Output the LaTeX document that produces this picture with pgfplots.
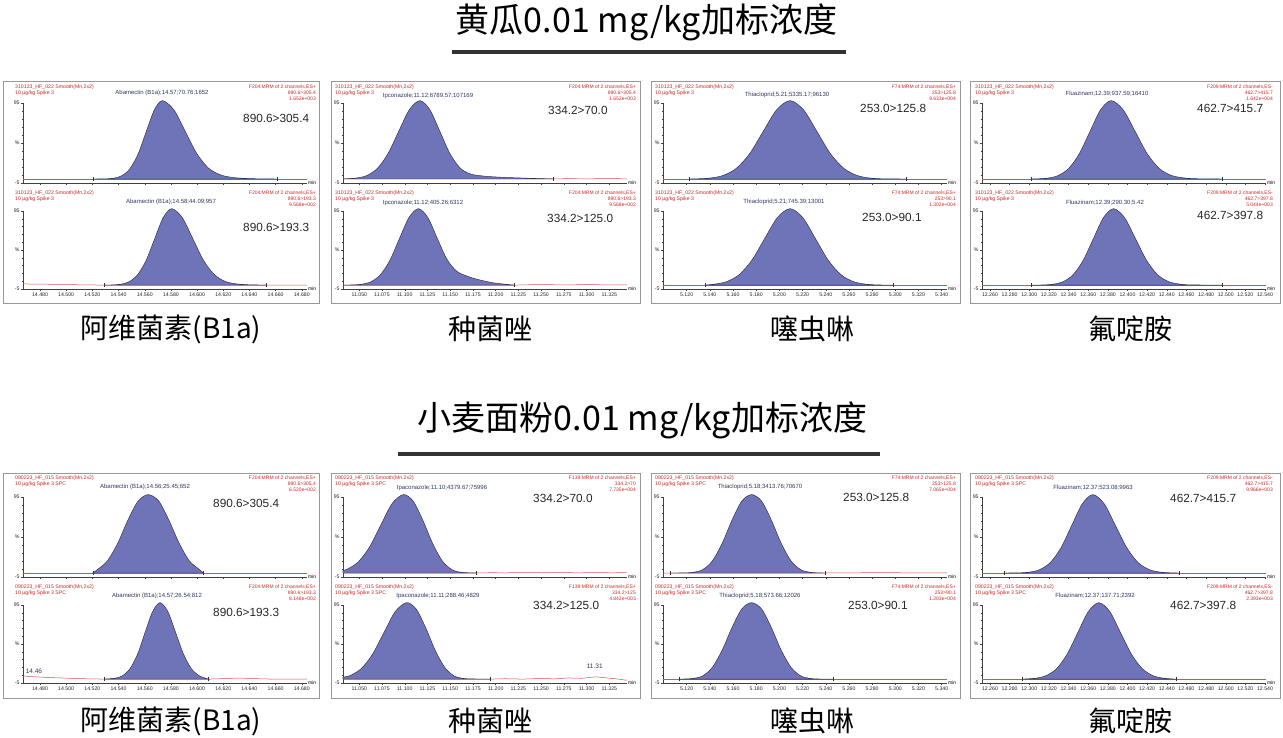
\documentclass[border=0pt]{standalone}
\usepackage{pgfplots}
\pgfplotsset{compat=1.18}
\usepackage{fontspec}
\setmainfont{Liberation Sans}
\newfontfamily\cjk{Noto Sans CJK SC}
\definecolor{pk}{RGB}{111,115,184}
\definecolor{pkline}{RGB}{45,45,70}
\definecolor{trc}{RGB}{214,80,80}
\definecolor{hred}{RGB}{205,40,40}
\definecolor{cmp}{RGB}{45,55,95}
\newcommand\fs[1]{\fontsize{#1}{#1}\selectfont}
\pgfplotsset{
 chrom/.style={scale only axis, width=284pt, axis lines*=left,
   axis line style={-, black!75, line width=0.5pt},
   ymin=-5, ymax=95, ytick={-5,45,95}, yticklabels={-5,\%,95},
   minor ytick={5,15,25,35,55,65,75,85},
   clip=false, tick align=outside,
   major tick length=2.2pt, minor tick length=1.4pt,
   tick style={black!75, line width=0.4pt},
   tick label style={font=\fs{5.2}, text=black!85, inner sep=1pt},
   typeset ticklabels with strut,
   /pgf/number format/assume math mode=true,
   xticklabel style={/pgf/number format/.cd, fixed, fixed zerofill, precision=3},
   unbounded coords=jump,
 },
 up/.style={chrom, height=80pt, anchor=south west, xticklabels={}},
 lo/.style={chrom, height=78pt, anchor=south west},
 abam/.style={xmin=14.467, xmax=14.684, xtick={14.48,14.5,14.52,14.54,14.56,14.58,14.6,14.62,14.64,14.66,14.68}, minor x tick num=4},
 ipco/.style={xmin=11.0321, xmax=11.3445, xtick={11.05,11.075,11.1,11.125,11.15,11.175,11.2,11.225,11.25,11.275,11.3,11.325}, minor x tick num=4},
 ipcolbl/.style={xticklabels={11.050,11.075,11.100,11.125,11.150,11.175,11.200,11.225,11.250,11.275,11.300,11.325}},
 thia/.style={xmin=5.0996, xmax=5.3446, xtick={5.12,5.14,5.16,5.18,5.2,5.22,5.24,5.26,5.28,5.3,5.32,5.34}, minor x tick num=4},
 fluz/.style={xmin=12.2519, xmax=12.541, xtick={12.26,12.28,12.3,12.32,12.34,12.36,12.38,12.4,12.42,12.44,12.46,12.48,12.5,12.52,12.54}, minor x tick num=4},
 tr/.style={trc, line width=0.5pt},
 pkst/.style={fill=pk, draw=pkline, line width=0.45pt, smooth, tension=0.5},
 mk/.style={black!80, line width=0.4pt},
}
\newcommand\minlbl{\node[anchor=west, font=\fs{5}, inner sep=1pt] at (rel axis cs:1,0) {min};}
\newcommand\hd[8]{%
 \node[anchor=west,text=hred,font=\fs{5.2},inner sep=0pt] at (#1,-#3) {#4};
 \node[anchor=west,text=hred,font=\fs{5.2},inner sep=0pt] at (#1,-#3-6) {#5};
 \node[anchor=east,text=hred,font=\fs{5},inner sep=0pt] at (#2,-#3) {#6};
 \node[anchor=east,text=hred,font=\fs{5},inner sep=0pt] at (#2,-#3-6) {#7};
 \node[anchor=east,text=hred,font=\fs{5},inner sep=0pt] at (#2,-#3-12) {#8};}
\newcommand\cm[3]{\node[text=cmp,font=\fs{6},inner sep=0pt] at (#1,-#2) {#3};}
\newcommand\trn[3]{\node[anchor=west,font=\fs{11.8},text=black!85,inner sep=0pt] at (#1,-#2) {#3};}
\begin{document}
\begin{tikzpicture}[x=1pt,y=1pt]
\useasboundingbox (0,0) rectangle (1283,-738);
% titles
\node[font=\cjk\fs{34}] at (646.5,-22) {黄瓜0.01 mg/kg加标浓度};
\draw[line width=4.5pt, black!80] (452,-52) -- (846,-52);
\node[font=\cjk\fs{34}] at (642.5,-420) {小麦面粉0.01 mg/kg加标浓度};
\draw[line width=4.5pt, black!80] (398,-454) -- (880,-454);
% boxes
\foreach \a/\b in {3/319,331/640,651/960,970/1280}{
 \draw[black!40, line width=0.7pt] (\a,-81) rectangle (\b,-303);
 \draw[black!40, line width=0.7pt] (\a,-473) rectangle (\b,-698);}
% captions
\node[font=\cjk\fs{28}] at (171,-329) {阿维菌素(B1a)};
\node[font=\cjk\fs{28}] at (490,-329) {种菌唑};
\node[font=\cjk\fs{28}] at (812,-329) {噻虫啉};
\node[font=\cjk\fs{28}] at (1130,-329) {氟啶胺};
\node[font=\cjk\fs{28}] at (171,-721) {阿维菌素(B1a)};
\node[font=\cjk\fs{28}] at (490,-721) {种菌唑};
\node[font=\cjk\fs{28}] at (812,-721) {噻虫啉};
\node[font=\cjk\fs{28}] at (1130,-721) {氟啶胺};
% ===== headers cucumber
\hd{15}{316}{87}{310123\_HF\_022 Smooth(Mn,2x2)}{10 µg/kg Spike 3}{F204:MRM of 2 channels,ES+}{890.6>305.4}{1.652e+003}
\hd{15}{316}{193}{310123\_HF\_022 Smooth(Mn,2x2)}{10 µg/kg Spike 3}{F204:MRM of 2 channels,ES+}{890.6>193.3}{9.568e+002}
\cm{162}{93}{Abamectin (B1a);14.57;70.76;1652}
\cm{171}{202}{Abamectin (B1a);14.58;44.09;957}
\trn{243}{118}{890.6>305.4}
\trn{243}{227}{890.6>193.3}
\hd{335}{636}{87}{310123\_HF\_022 Smooth(Mn,2x2)}{10 µg/kg Spike 3}{F204:MRM of 2 channels,ES+}{890.6>305.4}{1.652e+003}
\hd{335}{636}{193}{310123\_HF\_022 Smooth(Mn,2x2)}{10 µg/kg Spike 3}{F204:MRM of 2 channels,ES+}{890.6>193.3}{9.568e+002}
\cm{428}{96}{Ipconazole;11.12;6789.57;107169}
\cm{423}{203}{Ipconazole;11.12;405.26;6312}
\trn{548}{110}{334.2>70.0}
\trn{547}{218}{334.2>125.0}
\hd{655}{956}{87}{310123\_HF\_022 Smooth(Mn,2x2)}{10 µg/kg Spike 3}{F74:MRM of 2 channels,ES+}{253>125.8}{9.633e+004}
\hd{655}{956}{193}{310123\_HF\_022 Smooth(Mn,2x2)}{10 µg/kg Spike 3}{F74:MRM of 2 channels,ES+}{253>90.1}{1.302e+004}
\cm{787}{95}{Thiacloprid;5.21;5335.17;96130}
\cm{784}{202}{Thiacloprid;5.21;745.39;13001}
\trn{860}{108}{253.0>125.8}
\trn{862}{217}{253.0>90.1}
\hd{975}{1273}{87}{310123\_HF\_022 Smooth(Mn,2x2)}{10 µg/kg Spike 3}{F209:MRM of 2 channels,ES-}{462.7>415.7}{1.642e+004}
\hd{975}{1273}{193}{310123\_HF\_022 Smooth(Mn,2x2)}{10 µg/kg Spike 3}{F209:MRM of 2 channels,ES-}{462.7>397.8}{5.044e+003}
\cm{1107}{94}{Fluazinam;12.39;937.59;16410}
\cm{1105}{203}{Fluazinam;12.39;290.30;5.42}
\trn{1197}{108}{462.7>415.7}
\trn{1197}{215}{462.7>397.8}
% ===== headers wheat
\hd{15}{316}{478}{090223\_HF\_015 Smooth(Mn,2x2)}{10 µg/kg Spike 3 SPC}{F204:MRM of 2 channels,ES+}{890.6>305.4}{6.520e+002}
\hd{15}{316}{587}{090223\_HF\_015 Smooth(Mn,2x2)}{10 µg/kg Spike 3 SPC}{F204:MRM of 2 channels,ES+}{890.6>193.3}{8.146e+002}
\cm{145}{487}{Abamectin (B1a);14.56;25.45;652}
\cm{157}{596}{Abamectin (B1a);14.57;26.54;812}
\trn{213}{503}{890.6>305.4}
\trn{213}{612}{890.6>193.3}
\hd{335}{636}{478}{090223\_HF\_015 Smooth(Mn,2x2)}{10 µg/kg Spike 3 SPC}{F139:MRM of 2 channels,ES+}{334.2>70}{7.735e+004}
\hd{335}{636}{587}{090223\_HF\_015 Smooth(Mn,2x2)}{10 µg/kg Spike 3 SPC}{F139:MRM of 2 channels,ES+}{334.2>125}{4.842e+003}
\cm{442}{488}{Ipaconazole;11.10;4379.67;75996}
\cm{438}{596}{Ipaconazole;11.11;288.46;4829}
\trn{533}{498}{334.2>70.0}
\trn{533}{605}{334.2>125.0}
\hd{655}{956}{478}{090223\_HF\_015 Smooth(Mn,2x2)}{10 µg/kg Spike 3 SPC}{F74:MRM of 2 channels,ES+}{253>125.8}{7.065e+004}
\hd{655}{956}{587}{090223\_HF\_015 Smooth(Mn,2x2)}{10 µg/kg Spike 3 SPC}{F74:MRM of 2 channels,ES+}{253>90.1}{1.203e+004}
\cm{760}{487}{Thiacloprid;5.18;3413.76;70670}
\cm{760}{596}{Thiacloprid;5.18;573.66;12026}
\trn{843}{497}{253.0>125.8}
\trn{848}{605}{253.0>90.1}
\hd{975}{1273}{478}{090223\_HF\_015 Smooth(Mn,2x2)}{10 µg/kg Spike 3 SPC}{F209:MRM of 2 channels,ES-}{462.7>415.7}{9.966e+003}
\hd{975}{1273}{587}{090223\_HF\_015 Smooth(Mn,2x2)}{10 µg/kg Spike 3 SPC}{F209:MRM of 2 channels,ES-}{462.7>397.8}{2.393e+003}
\cm{1093}{488}{Fluazinam;12.37;523.08;9963}
\cm{1095}{596}{Fluazinam;12.37;137.71;2392}
\trn{1170}{498}{462.7>415.7}
\trn{1170}{605}{462.7>397.8}

% ================= CUCUMBER =================
\begin{axis}[up, abam, at={(23pt,-183pt)}]
\addplot[tr] coordinates {(14.467,0) (14.684,0)};
\addplot[pkst] coordinates {(14.5203,0) (14.5305,0.2) (14.5366,1.1) (14.5428,4.3) (14.5489,13.3) (14.5551,31.8) (14.5612,59.4) (14.5674,86.5) (14.5735,98) (14.5823,86.5) (14.5910,59.4) (14.5998,31.8) (14.6085,14.0) (14.6173,5.5) (14.6260,2.2) (14.6348,0.9) (14.6450,0.3) (14.6609,0)} -- cycle;
\addplot[mk] coordinates {(14.5203,-2.5) (14.5203,2.5) (nan,nan) (14.6609,-2.5) (14.6609,2.5)};
\minlbl
\end{axis}
\begin{axis}[lo, abam, at={(23pt,-289pt)}]
\addplot[tr] coordinates {(14.467,1.5) (14.49,1.0) (14.51,0.4) (14.5289,0) (14.684,0)};
\addplot[pkst] coordinates {(14.5289,0) (14.5351,0.2) (14.5416,1.1) (14.5481,4.3) (14.5546,13.3) (14.5611,31.8) (14.5676,59.4) (14.5741,86.5) (14.5806,98) (14.5887,86.5) (14.5968,59.4) (14.6049,31.8) (14.6130,13.8) (14.6211,5.0) (14.6292,1.8) (14.6373,0.6) (14.6450,0.2) (14.6532,0)} -- cycle;
\addplot[mk] coordinates {(14.5289,-2.5) (14.5289,2.5) (nan,nan) (14.6532,-2.5) (14.6532,2.5)};
\minlbl
\end{axis}
\begin{axis}[up, ipco, at={(343pt,-183pt)}]
\addplot[tr] coordinates {(11.0321,0) (11.2634,0) (11.28,0.5) (11.30,0.1) (11.32,0.6) (11.3445,0.2)};
\addplot[pkst] coordinates {(11.0322,0) (11.0465,1.2) (11.0582,4.3) (11.0699,13.3) (11.0816,31.8) (11.0933,59.4) (11.1050,86.5) (11.1167,98) (11.1277,86.5) (11.1387,59.4) (11.1497,31.8) (11.1607,14) (11.1717,6.5) (11.1827,4.2) (11.1937,3) (11.2100,2) (11.2350,1) (11.2634,0)} -- cycle;
\addplot[mk] coordinates {(11.2634,-2.5) (11.2634,2.5)};
\minlbl
\end{axis}
\begin{axis}[lo, ipco, ipcolbl, at={(343pt,-289pt)}]
\addplot[tr] coordinates {(11.0321,0) (11.2205,0) (11.235,0.4) (11.25,1.0) (11.265,0.4) (11.28,0.2) (11.30,0.8) (11.32,0.3) (11.3445,0.4)};
\addplot[pkst] coordinates {(11.0322,0) (11.0419,0.2) (11.0523,1.1) (11.0628,4.3) (11.0732,13.3) (11.0837,31.8) (11.0941,59.4) (11.1046,86.5) (11.1150,98) (11.1255,86.5) (11.1360,59.4) (11.1465,33) (11.1570,18) (11.1675,12) (11.1780,8) (11.1885,5) (11.2000,2.5) (11.2205,0)} -- cycle;
\addplot[mk] coordinates {(11.2205,-2.5) (11.2205,2.5)};
\minlbl
\end{axis}
\begin{axis}[up, thia, at={(663pt,-183pt)}]
\addplot[tr] coordinates {(5.0996,0) (5.3446,0)};
\addplot[pkst] coordinates {(5.1223,0) (5.1280,0.2) (5.1396,1.1) (5.1512,4.3) (5.1628,13.3) (5.1744,31.8) (5.1860,59.4) (5.1976,86.5) (5.2092,98) (5.2208,86.5) (5.2324,59.4) (5.2440,31.8) (5.2556,13.3) (5.2672,4.3) (5.2788,1.1) (5.2904,0.2) (5.3098,0)} -- cycle;
\addplot[mk] coordinates {(5.1223,-2.5) (5.1223,2.5) (nan,nan) (5.3098,-2.5) (5.3098,2.5)};
\minlbl
\end{axis}
\begin{axis}[lo, thia, at={(663pt,-289pt)}]
\addplot[tr] coordinates {(5.0996,0) (5.3446,0)};
\addplot[pkst] coordinates {(5.1358,0) (5.1432,1.1) (5.1542,4.3) (5.1652,13.3) (5.1762,31.8) (5.1872,59.4) (5.1982,86.5) (5.2092,98) (5.2202,86.5) (5.2312,59.4) (5.2422,31.8) (5.2532,13.3) (5.2642,4.3) (5.2752,1.1) (5.2862,0.2) (5.2983,0)} -- cycle;
\addplot[mk] coordinates {(5.1358,-2.5) (5.1358,2.5) (nan,nan) (5.2983,-2.5) (5.2983,2.5)};
\minlbl
\end{axis}
\begin{axis}[up, fluz, at={(982pt,-183pt)}]
\addplot[tr] coordinates {(12.2519,0) (12.541,0)};
\addplot[pkst] coordinates {(12.3016,0) (12.3078,0.2) (12.3186,1.1) (12.3294,4.3) (12.3402,13.3) (12.3510,31.8) (12.3618,59.4) (12.3726,86.5) (12.3834,98) (12.3956,86.5) (12.4078,59.4) (12.4200,31.8) (12.4322,13.3) (12.4444,4.6) (12.4566,1.5) (12.4688,0.4) (12.4967,0)} -- cycle;
\addplot[mk] coordinates {(12.3016,-2.5) (12.3016,2.5) (nan,nan) (12.4967,-2.5) (12.4967,2.5)};
\minlbl
\end{axis}
\begin{axis}[lo, fluz, at={(982pt,-289pt)}]
\addplot[tr] coordinates {(12.2519,0) (12.541,0)};
\addplot[pkst] coordinates {(12.3016,0) (12.3137,0.2) (12.3240,1.1) (12.3343,4.3) (12.3446,13.3) (12.3549,31.8) (12.3652,59.4) (12.3755,86.5) (12.3858,98) (12.3970,86.5) (12.4082,59.4) (12.4194,31.8) (12.4306,13.3) (12.4418,4.5) (12.4530,1.3) (12.4642,0.3) (12.4967,0)} -- cycle;
\addplot[mk] coordinates {(12.3016,-2.5) (12.3016,2.5) (nan,nan) (12.4967,-2.5) (12.4967,2.5)};
\minlbl
\end{axis}

% ================= WHEAT =================
\begin{axis}[up, abam, at={(23pt,-577pt)}]
\addplot[tr] coordinates {(14.467,0) (14.684,0)};
\addplot[pkst] coordinates {(14.5203,0) (14.5236,4) (14.5314,15) (14.5393,37) (14.5471,66) (14.5550,90) (14.5628,98) (14.5707,90) (14.5785,66) (14.5864,37) (14.5942,15) (14.6021,4) (14.6048,0)} -- cycle;
\addplot[mk] coordinates {(14.5203,-2.5) (14.5203,2.5) (nan,nan) (14.6048,-2.5) (14.6048,2.5)};
\minlbl
\end{axis}
\begin{axis}[lo, abam, at={(23pt,-683pt)}]
\addplot[tr] coordinates {(14.467,4) (14.475,3) (14.49,1.8) (14.51,0.6) (14.5289,0) (14.6087,0) (14.62,0.6) (14.632,1.4) (14.644,0.6) (14.655,0.1) (14.684,0)};
\addplot[pkst] coordinates {(14.5289,0) (14.5372,1.1) (14.5430,4.3) (14.5487,13.3) (14.5545,31.8) (14.5602,59.4) (14.5660,86.5) (14.5717,98) (14.5777,86.5) (14.5837,59.4) (14.5897,31.8) (14.5957,13.3) (14.6017,4.3) (14.6087,0)} -- cycle;
\addplot[mk] coordinates {(14.5289,-2.5) (14.5289,2.5) (nan,nan) (14.6087,-2.5) (14.6087,2.5)};
\node[anchor=west, font=\fs{6.5}, text=cmp, inner sep=0pt] at (axis cs:14.469,10) {14.46};
\minlbl
\end{axis}
\begin{axis}[up, ipco, at={(343pt,-577pt)}]
\addplot[tr] coordinates {(11.0321,0) (11.179,0) (11.195,0.4) (11.21,0.2) (11.23,0.8) (11.25,0.3) (11.27,0.7) (11.29,0.2) (11.31,0.6) (11.33,0.2) (11.3445,1.0)};
\addplot[pkst] coordinates {(11.0322,0) (11.0322,3.4) (11.0359,4.3) (11.0484,13.3) (11.0609,31.8) (11.0734,59.4) (11.0859,86.5) (11.0984,98) (11.1092,90) (11.1199,66) (11.1307,37) (11.1414,15) (11.1522,4) (11.1629,0.8) (11.1737,0.2) (11.1790,0)} -- cycle;
\addplot[mk] coordinates {(11.1790,-2.5) (11.1790,2.5)};
\minlbl
\end{axis}
\begin{axis}[lo, ipco, ipcolbl, at={(343pt,-683pt)}]
\addplot[tr] coordinates {(11.0321,0) (11.1945,0) (11.21,0.5) (11.23,0) (11.25,0.8) (11.265,0.3) (11.28,1.5) (11.295,1.0) (11.31,3.0) (11.322,1.5) (11.333,0.3) (11.3445,-1.5)};
\addplot[pkst] coordinates {(11.0322,0) (11.0322,2.5) (11.0395,4.3) (11.0520,13.3) (11.0645,31.8) (11.0770,59.4) (11.0895,86.5) (11.1020,98) (11.1125,90) (11.1230,66) (11.1335,37) (11.1440,15) (11.1545,4) (11.1650,0.8) (11.1750,0.2) (11.1945,0)} -- cycle;
\addplot[mk] coordinates {(11.1945,-2.5) (11.1945,2.5)};
\node[font=\fs{6.5}, text=cmp, inner sep=0pt] at (axis cs:11.309,16) {11.31};
\minlbl
\end{axis}
\begin{axis}[up, thia, at={(663pt,-577pt)}]
\addplot[tr] coordinates {(5.0996,0) (5.2394,0) (5.27,0.3) (5.29,0.6) (5.31,0.2) (5.3446,0)};
\addplot[pkst] coordinates {(5.1056,0) (5.1166,0.1) (5.1251,0.8) (5.1336,4) (5.1421,15) (5.1506,37) (5.1591,66) (5.1676,90) (5.1761,98) (5.1846,90) (5.1931,66) (5.2016,37) (5.2101,15) (5.2186,4) (5.2271,0.8) (5.2356,0.1) (5.2394,0)} -- cycle;
\addplot[mk] coordinates {(5.1056,-2.5) (5.1056,2.5) (nan,nan) (5.2394,-2.5) (5.2394,2.5)};
\minlbl
\end{axis}
\begin{axis}[lo, thia, at={(663pt,-683pt)}]
\addplot[tr] coordinates {(5.0996,0) (5.3446,0)};
\addplot[pkst] coordinates {(5.1139,0) (5.1251,0.8) (5.1336,4) (5.1421,15) (5.1506,37) (5.1591,66) (5.1676,90) (5.1761,98) (5.1846,90) (5.1931,66) (5.2016,37) (5.2101,15) (5.2186,4) (5.2271,0.8) (5.2356,0.1) (5.2460,0)} -- cycle;
\addplot[mk] coordinates {(5.1139,-2.5) (5.1139,2.5) (nan,nan) (5.2460,-2.5) (5.2460,2.5)};
\minlbl
\end{axis}
\begin{axis}[up, fluz, at={(982pt,-577pt)}]
\addplot[tr] coordinates {(12.2519,0) (12.541,0)};
\addplot[pkst] coordinates {(12.2745,0) (12.2892,0.2) (12.3000,1.1) (12.3108,4.3) (12.3216,13.3) (12.3324,31.8) (12.3432,59.4) (12.3540,86.5) (12.3648,98) (12.3763,86.5) (12.3877,59.4) (12.3992,31.8) (12.4106,13.3) (12.4221,4.3) (12.4335,1.1) (12.4450,0.2) (12.4527,0)} -- cycle;
\addplot[mk] coordinates {(12.2745,-2.5) (12.2745,2.5) (nan,nan) (12.4527,-2.5) (12.4527,2.5)};
\minlbl
\end{axis}
\begin{axis}[lo, fluz, at={(982pt,-683pt)}]
\addplot[tr] coordinates {(12.2519,0) (12.541,0)};
\addplot[pkst] coordinates {(12.2931,0) (12.3061,1.1) (12.3169,4.3) (12.3277,13.3) (12.3385,31.8) (12.3493,59.4) (12.3601,86.5) (12.3709,98) (12.3820,86.5) (12.3930,59.4) (12.4041,31.8) (12.4151,13.3) (12.4262,4.3) (12.4372,1.1) (12.4493,0)} -- cycle;
\addplot[mk] coordinates {(12.2931,-2.5) (12.2931,2.5) (nan,nan) (12.4493,-2.5) (12.4493,2.5)};
\minlbl
\end{axis}
\end{tikzpicture}
\end{document}
